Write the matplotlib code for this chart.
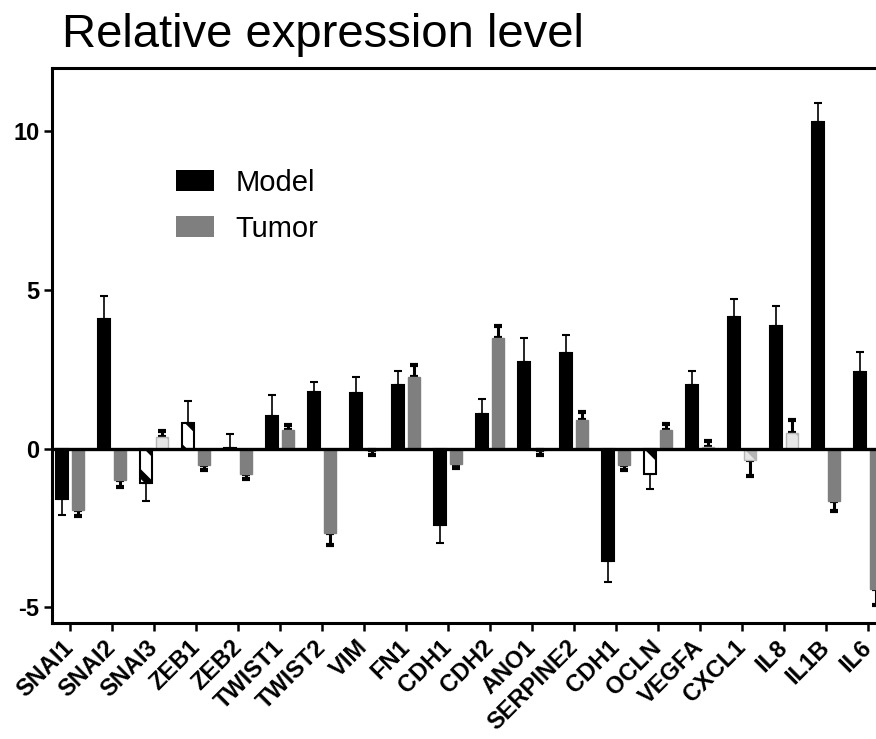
import numpy as np
import matplotlib
matplotlib.use("Agg")
import matplotlib.pyplot as plt
from matplotlib.patches import Patch

plt.rcParams["font.family"] = ["Liberation Sans", "DejaVu Sans"]
plt.rcParams["axes.unicode_minus"] = False
plt.rcParams["hatch.linewidth"] = 5.0

# relative expression, model vs tumor
genes = ["SNAI1", "SNAI2", "SNAI3", "ZEB1", "ZEB2", "TWIST1", "TWIST2", "VIM", "FN1", "CDH1",
         "CDH2", "ANO1", "SERPINE2", "CDH1", "OCLN", "VEGFA", "CXCL1", "IL8", "IL1B", "IL6"]
model     = [-1.6, 4.1, -1.1, 0.82, 0.03, 1.04, 1.79, 1.74, 2.0, -2.42,
             1.1, 2.73, 3.0, -3.53, -0.79, 2.0, 4.15, 3.87, 10.3, 2.43]
model_err = [0.5, 0.7, 0.55, 0.68, 0.42, 0.66, 0.32, 0.52, 0.45, 0.55,
             0.45, 0.75, 0.58, 0.67, 0.5, 0.46, 0.58, 0.61, 0.6, 0.6]
tumor     = [-1.93, -0.98, 0.36, -0.53, -0.8, 0.58, -2.65, -0.05, 2.27, -0.5,
             3.5, -0.05, 0.9, -0.51, 0.57, 0.05, -0.35, 0.5, -1.66, -4.43]
tumor_err = [0.2, 0.22, 0.19, 0.15, 0.15, 0.17, 0.4, 0.15, 0.37, 0.1,
             0.35, 0.16, 0.25, 0.15, 0.2, 0.19, 0.5, 0.4, 0.3, 0.5]
# non-significant bars drawn hatched / pale
model_ns = [False, False, True, True, True, False, False, False, False, False,
            False, False, False, False, True, False, False, False, False, False]
tumor_ns = [False, False, True, False, False, False, False, False, False, False,
            False, False, False, False, False, True, True, True, False, False]

x = np.arange(len(genes))
w = 0.29
off = 0.19

def one_sided(vals, errs):
    v = np.asarray(vals); e = np.asarray(errs)
    return np.vstack([np.where(v < 0, e, 0), np.where(v >= 0, e, 0)])

fig = plt.figure(figsize=(8.76, 7.39), dpi=100)
ax = fig.add_axes([52/876, 116/739, 1 - 52/876, 555/739])

m_face = ["white" if ns else "black" for ns in model_ns]
t_face = ["#e6e6e6" if ns else "#7f7f7f" for ns in tumor_ns]
t_edge = ["#b5b5b5" if ns else "#7f7f7f" for ns in tumor_ns]

bars_m = ax.bar(x - off, model, w, color=m_face, edgecolor="black", linewidth=1.5, zorder=3)
for b, ns in zip(bars_m, model_ns):
    if ns: b.set_hatch("\\")
bars_t = ax.bar(x + off, tumor, w, color=t_face, edgecolor=t_edge, linewidth=1.0, zorder=3)
for b, ns in zip(bars_t, tumor_ns):
    if ns: b.set_hatch("\\")

ax.errorbar(x - off, model, yerr=one_sided(model, model_err), fmt="none", ecolor="black",
            elinewidth=1.2, capsize=3.2, capthick=1.5, zorder=2)
ax.errorbar(x + off, tumor, yerr=one_sided(tumor, tumor_err), fmt="none", ecolor="black",
            elinewidth=2.2, capsize=3.0, capthick=3.0, zorder=2)

ax.axhline(0, color="black", lw=2.4, zorder=4)

ax.set_xlim(-0.43, 19.19)
ax.set_ylim(-5.5, 12.0)
ax.set_yticks([-5, 0, 5, 10])
ax.set_yticklabels(["-5", "0", "5", "10"], fontsize=17, fontweight="bold")
ax.set_xticks(x)
ax.set_xticklabels(genes, rotation=45, ha="right", va="center", rotation_mode="anchor",
                   fontsize=17, fontweight="bold")
ax.tick_params(axis="both", direction="out", length=6, width=1.8, pad=3)
ax.tick_params(axis="x", pad=9)
for s in ["left", "top", "bottom"]:
    ax.spines[s].set_linewidth(2.2)
ax.spines["right"].set_visible(False)

leg = ax.legend(handles=[Patch(facecolor="black"), Patch(facecolor="#7f7f7f")],
                labels=["Model", "Tumor"], loc="upper left",
                bbox_to_anchor=(176/876, 1 - 169/739), bbox_transform=fig.transFigure,
                frameon=False, fontsize=21, borderpad=0, borderaxespad=0,
                handlelength=1.3, handleheight=0.72, handletextpad=0.75, labelspacing=0.62)

fig.text(62/876, 1 - 47/739, "Relative expression level", fontsize=34, va="baseline", ha="left")

fig.savefig("out.png", dpi=100, facecolor="white")
